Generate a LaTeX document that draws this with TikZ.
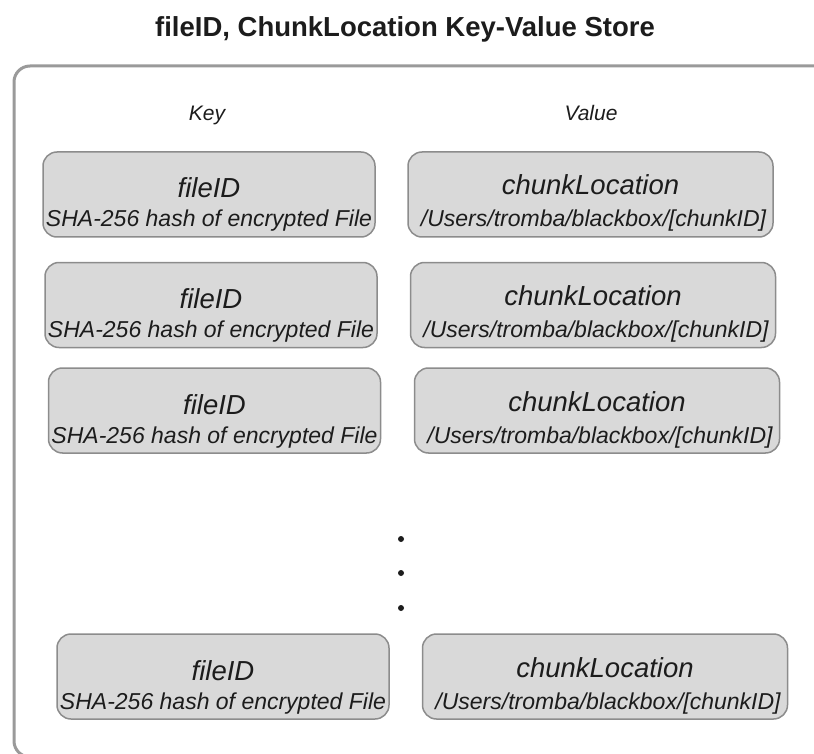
\documentclass[tikz,border=0pt]{standalone}
\usepackage{fontspec}
\setmainfont{Liberation Sans}
\usepackage{tikz}
\definecolor{boxfill}{HTML}{D9D9D9}
\definecolor{boxline}{HTML}{8C8C8C}
\definecolor{frameline}{HTML}{9A9A9A}
\definecolor{txt}{HTML}{1C1C1C}

\begin{document}
\begin{tikzpicture}[x=1pt, y=1pt,
        every node/.style={inner sep=0pt, outer sep=0pt, text=txt},
        keybox/.style={draw=boxline, fill=boxfill, line width=1.5pt, rounded corners=14pt,
            minimum width=332pt, minimum height=85pt},
        valbox/.style={keybox, minimum width=365pt},
        namelbl/.style={anchor=base, font=\fontsize{27.5}{30}\selectfont\itshape},
        sublbl/.style={anchor=base, font=\fontsize{23}{26}\selectfont\itshape},
        collbl/.style={anchor=base, font=\fontsize{21}{24}\selectfont\itshape}]
        \useasboundingbox (0, 0) rectangle (814, -754);
        \clip (0, 0) rectangle (814, -754);
        \draw (405, -37) node(title)[anchor=base, font=\fontsize{27.5}{30}\selectfont\bfseries]{fileID, ChunkLocation Key-Value Store};
        % outer store frame, runs off the right and bottom
        \draw[frameline, line width=3pt, rounded corners=16pt] (14, -66) rectangle (880, -757);
        \draw (207, -121) node(keycol)[collbl]{Key};
        \draw (591, -121) node(valcol)[collbl]{Value};
        % row 1
        \draw (209, -194.5) node(k1)[keybox]{};
        \draw (590.5, -194.5) node(v1)[valbox]{};
        \node (k1name)[namelbl] at ([yshift=-46]k1.north) {fileID};
        \node (k1hash)[sublbl] at ([yshift=-75]k1.north) {SHA-256 hash of encrypted File};
        \node (v1name)[namelbl] at ([yshift=-43]v1.north) {chunkLocation};
        \node (v1path)[sublbl] at ([xshift=3, yshift=-75]v1.north) {/Users/tromba/blackbox/[chunkID]};
        % row 2
        \draw (211, -305) node(k2)[keybox]{};
        \draw (593, -305) node(v2)[valbox]{};
        \node (k2name)[namelbl] at ([yshift=-46]k2.north) {fileID};
        \node (k2hash)[sublbl] at ([yshift=-75]k2.north) {SHA-256 hash of encrypted File};
        \node (v2name)[namelbl] at ([yshift=-43]v2.north) {chunkLocation};
        \node (v2path)[sublbl] at ([xshift=3, yshift=-75]v2.north) {/Users/tromba/blackbox/[chunkID]};
        % row 3
        \draw (214.5, -410.5) node(k3)[keybox]{};
        \draw (597, -410.5) node(v3)[valbox]{};
        \node (k3name)[namelbl] at ([yshift=-46]k3.north) {fileID};
        \node (k3hash)[sublbl] at ([yshift=-75]k3.north) {SHA-256 hash of encrypted File};
        \node (v3name)[namelbl] at ([yshift=-43]v3.north) {chunkLocation};
        \node (v3path)[sublbl] at ([xshift=3, yshift=-75]v3.north) {/Users/tromba/blackbox/[chunkID]};
        % dots
        \fill[txt] (401, -539) circle (3);
        \fill[txt] (401, -573) circle (3);
        \fill[txt] (401, -608) circle (3);
        % last row
        \draw (223, -676.5) node(k4)[keybox]{};
        \draw (605, -676.5) node(v4)[valbox]{};
        \node (k4name)[namelbl] at ([yshift=-46]k4.north) {fileID};
        \node (k4hash)[sublbl] at ([yshift=-75]k4.north) {SHA-256 hash of encrypted File};
        \node (v4name)[namelbl] at ([yshift=-43]v4.north) {chunkLocation};
        \node (v4path)[sublbl] at ([xshift=3, yshift=-75]v4.north) {/Users/tromba/blackbox/[chunkID]};
    \end{tikzpicture}
\end{document}
